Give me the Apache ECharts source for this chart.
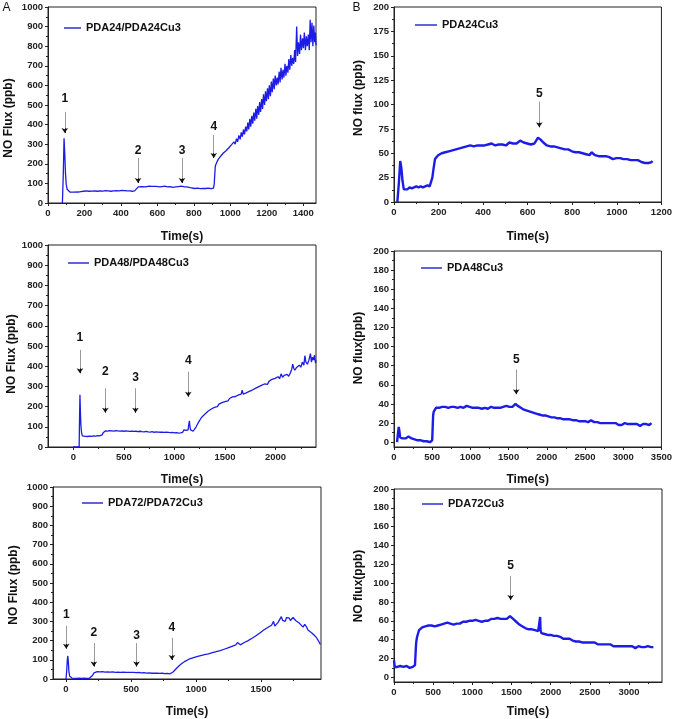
<!DOCTYPE html>
<html><head><meta charset="utf-8">
<script src="https://cdn.jsdelivr.net/npm/echarts@6/dist/echarts.min.js"></script>
<style>html,body{margin:0;padding:0;background:#fff}#c{width:675px;height:719px}</style>
</head><body><div id="c"></div>
<script>
// ---------- tick labels ----------
const xTicksA1 = [0,200,400,600,800,1000,1200,1400];
const xMinorA1 = [100,300,500,700,900,1100,1300];
const xTicksB1 = [0,200,400,600,800,1000,1200];
const xMinorB1 = [100,300,500,700,900,1100];
const xTicksA2 = [0,500,1000,1500,2000];
const xMinorA2 = [250,750,1250,1750,2250];
const xTicksB2 = [0,500,1000,1500,2000,2500,3000,3500];
const xMinorB2 = [250,750,1250,1750,2250,2750,3250];
const xTicksA3 = [0,500,1000,1500];
const xMinorA3 = [250,750,1250,1750];
const xTicksB3 = [0,500,1000,1500,2000,2500,3000];
const xMinorB3 = [250,750,1250,1750,2250,2750,3250];
const yTicksA = [0,100,200,300,400,500,600,700,800,900,1000];
const yMinorA = [50,150,250,350,450,550,650,750,850,950];
const yTicksB1 = [0,25,50,75,100,125,150,175,200];
const yMinorB1 = [12.5,37.5,62.5,87.5,112.5,137.5,162.5,187.5];
const yTicksB = [0,20,40,60,80,100,120,140,160,180,200];
const yMinorB = [10,30,50,70,90,110,130,150,170,190];

// ---------- series names / titles ----------
const seriesNames = ['PDA24/PDA24Cu3','PDA24Cu3','PDA48/PDA48Cu3','PDA48Cu3','PDA72/PDA72Cu3','PDA72Cu3'];
const yTitles = ['NO Flux (ppb)','NO flux (ppb)','NO Flux (ppb)','NO flux(ppb)','NO Flux (ppb)','NO flux(ppb)'];
const xTitle = 'Time(s)';
const panelLetters = ['A','B'];

// ---------- data: [time (s), NO flux (ppb)] ----------
const seriesA1 = [[79,0],[84,150],[88,330],[92,250],[96,150],[100,95],[105,70],[112,60],[120,56],[130,54],[140,55],[150,57],[165,56],[180,58],[195,60],[210,62],[225,60],[240,61],[255,62],[270,60],[285,62],[300,61],[315,63],[330,62],[345,60],[360,62],[375,63],[390,62],[405,64],[420,63],[435,62],[450,62],[462,60],[475,62],[485,70],[495,82],[505,85],[515,84],[525,86],[535,82],[545,84],[555,86],[562,95],[570,85],[580,83],[595,85],[610,82],[625,84],[640,86],[655,82],[670,84],[685,80],[700,82],[715,84],[730,86],[745,83],[760,82],[770,86],[780,78],[790,76],[805,74],[820,76],[835,73],[850,75],[865,74],[880,76],[895,73],[908,76],[912,100],[915,150],[918,190],[925,205],[932,220],[940,230],[948,240],[955,235],[962,255],[970,248],[978,268],[985,262],[992,282],[1000,275],[1007,298],[1014,288],[1020,312],[1027,300],[1034,328],[1040,312],[1047,345],[1054,325],[1060,360],[1066,338],[1072,375],[1078,350],[1084,390],[1090,365],[1096,410],[1101,375],[1107,430],[1112,390],[1118,445],[1123,405],[1129,462],[1134,420],[1140,480],[1145,430],[1150,495],[1156,450],[1161,515],[1166,465],[1172,530],[1177,480],[1182,555],[1188,500],[1193,570],[1198,520],[1204,585],[1209,530],[1214,600],[1220,545],[1225,620],[1230,565],[1236,635],[1241,580],[1246,650],[1252,600],[1257,640],[1262,605],[1268,670],[1273,615],[1278,690],[1284,630],[1289,680],[1294,640],[1300,710],[1305,650],[1310,700],[1316,665],[1321,735],[1326,680],[1332,755],[1337,700],[1342,740],[1348,710],[1353,780],[1358,720],[1364,900],[1369,750],[1374,820],[1380,760],[1385,860],[1390,780],[1396,840],[1401,790],[1406,870],[1412,780],[1417,850],[1422,800],[1428,860],[1433,780],[1438,935],[1443,820],[1448,920],[1453,800],[1458,905],[1463,820],[1467,870],[1470,805]];

const seriesB1 = [[15,0],[22,20],[28,42],[33,35],[38,22],[44,13],[50,14],[60,13],[70,15],[80,14],[90,15],[100,16],[110,15],[120,16],[130,15],[140,16],[150,17],[160,16],[166,18],[172,25],[178,35],[184,44],[190,46],[198,48],[206,47],[214,50],[222,49],[230,51],[238,50],[246,52],[254,51],[262,53],[270,52],[278,54],[286,53],[294,55],[302,54],[310,56],[318,55],[326,57],[334,56],[342,58],[350,60],[358,57],[366,59],[374,58],[382,60],[390,58],[398,59],[406,58],[414,60],[422,59],[430,58],[438,60],[446,59],[454,58],[462,60],[470,59],[478,61],[486,59],[494,60],[502,58],[510,60],[518,61],[526,59],[534,60],[542,58],[550,60],[558,59],[566,63],[574,62],[582,61],[590,62],[598,60],[606,61],[614,59],[622,61],[630,60],[638,63],[646,66],[652,68],[658,64],[664,63],[670,61],[678,60],[686,58],[694,59],[702,57],[710,56],[718,57],[726,55],[734,56],[742,54],[750,55],[758,53],[766,54],[774,56],[782,54],[790,53],[798,52],[806,53],[814,51],[822,52],[830,51],[838,52],[846,50],[854,51],[862,49],[870,50],[878,48],[886,51],[894,49],[902,48],[910,49],[918,47],[926,48],[934,47],[942,46],[950,47],[958,45],[966,46],[974,45],[982,44],[990,46],[998,45],[1006,44],[1014,45],[1022,43],[1030,44],[1038,43],[1046,44],[1054,42],[1062,43],[1070,42],[1078,43],[1086,41],[1094,43],[1102,42],[1110,41],[1118,42],[1126,40],[1134,41],[1142,40],[1150,39],[1156,41],[1160,42]];

const seriesA2 = [[0,0],[30,0],[58,0],[62,150],[66,258],[70,180],[75,110],[82,70],[90,55],[100,52],[120,53],[140,52],[160,54],[180,53],[200,55],[220,54],[240,56],[260,55],[275,57],[285,60],[295,70],[305,78],[320,80],[340,79],[360,81],[380,80],[400,79],[420,81],[440,80],[460,79],[480,80],[500,78],[520,80],[540,79],[560,77],[580,79],[600,77],[620,78],[640,76],[660,78],[680,76],[700,75],[720,77],[740,75],[760,74],[780,76],[800,73],[820,75],[840,74],[860,73],[880,74],[900,72],[920,73],[940,72],[960,71],[980,72],[1000,70],[1020,71],[1040,69],[1060,70],[1080,72],[1095,85],[1105,90],[1115,82],[1125,80],[1135,85],[1142,110],[1148,130],[1154,100],[1160,85],[1170,80],[1185,78],[1200,85],[1215,100],[1230,115],[1245,128],[1260,140],[1275,150],[1290,158],[1305,165],[1320,170],[1335,178],[1350,183],[1365,188],[1380,192],[1395,196],[1410,205],[1425,200],[1440,212],[1455,208],[1470,220],[1485,215],[1500,225],[1515,232],[1530,228],[1545,240],[1560,235],[1575,248],[1590,240],[1605,250],[1620,245],[1635,258],[1650,250],[1660,262],[1670,282],[1680,262],[1695,258],[1710,268],[1725,262],[1740,275],[1755,270],[1770,282],[1785,278],[1800,290],[1815,285],[1830,298],[1845,292],[1860,305],[1875,300],[1890,312],[1905,318],[1920,310],[1935,325],[1950,320],[1965,335],[1980,328],[1995,340],[2010,332],[2025,348],[2040,338],[2055,362],[2070,345],[2085,355],[2100,348],[2115,360],[2130,350],[2145,365],[2160,385],[2170,410],[2180,390],[2190,380],[2205,392],[2220,385],[2235,405],[2250,395],[2265,420],[2280,405],[2290,452],[2300,420],[2315,410],[2330,430],[2345,462],[2355,420],[2365,445],[2375,430],[2385,455],[2395,415],[2400,430]];

const seriesB2 = [[40,0],[50,8],[62,16],[70,12],[80,5],[95,3],[110,4],[130,3],[150,4],[170,5],[190,6],[210,5],[230,4],[250,4],[270,3],[290,3],[310,2],[330,3],[350,2],[370,2],[390,1],[410,2],[430,1],[450,1],[470,0],[490,1],[500,2],[506,15],[512,28],[520,32],[535,34],[550,36],[570,37],[590,36],[610,38],[630,37],[650,39],[670,37],[690,38],[710,36],[730,38],[750,37],[770,39],[790,37],[810,38],[830,36],[850,38],[870,37],[890,38],[910,36],[930,37],[950,38],[970,36],[990,37],[1010,38],[1030,36],[1050,37],[1070,36],[1090,38],[1110,36],[1130,37],[1150,35],[1170,37],[1190,36],[1210,37],[1230,35],[1250,36],[1270,37],[1290,35],[1310,36],[1330,37],[1350,36],[1370,37],[1390,36],[1410,38],[1430,37],[1450,39],[1470,38],[1490,39],[1510,37],[1530,38],[1550,37],[1570,39],[1590,40],[1605,41],[1620,38],[1640,37],[1660,36],[1680,35],[1700,34],[1720,35],[1740,33],[1760,34],[1780,32],[1800,33],[1820,31],[1840,32],[1860,30],[1880,31],[1900,29],[1920,30],[1940,28],[1960,29],[1980,28],[2000,29],[2020,27],[2040,28],[2060,26],[2080,27],[2100,26],[2120,27],[2140,25],[2160,26],[2180,25],[2200,26],[2220,24],[2240,25],[2260,24],[2280,25],[2300,24],[2320,25],[2340,23],[2360,24],[2380,23],[2400,24],[2420,22],[2440,23],[2460,22],[2480,23],[2500,22],[2520,23],[2540,21],[2560,22],[2580,23],[2600,22],[2620,21],[2640,22],[2660,21],[2680,22],[2700,20],[2720,21],[2740,20],[2760,21],[2780,20],[2800,19],[2820,20],[2840,19],[2860,20],[2880,19],[2900,20],[2920,19],[2940,18],[2960,19],[2980,18],[3000,19],[3020,20],[3040,18],[3060,19],[3080,18],[3100,19],[3120,18],[3140,19],[3160,18],[3180,19],[3200,18],[3220,17],[3240,18],[3260,19],[3280,18],[3300,19],[3320,17],[3340,18],[3360,19],[3370,20]];

const seriesA3 = [[0,0],[5,40],[10,100],[14,120],[18,90],[22,40],[28,15],[35,7],[45,5],[60,4],[80,3],[100,4],[120,3],[140,4],[160,3],[180,4],[195,6],[205,20],[215,32],[225,37],[240,38],[260,37],[280,38],[300,36],[320,37],[340,36],[360,37],[380,35],[400,36],[420,35],[440,36],[460,34],[480,35],[500,34],[520,35],[540,33],[560,34],[580,32],[600,33],[620,31],[640,32],[660,30],[680,31],[690,35],[700,30],[720,29],[740,30],[760,28],[780,29],[800,27],[812,28],[825,38],[840,48],[855,60],[870,70],[885,78],[900,85],[915,92],[930,98],[945,103],[960,107],[975,110],[990,113],[1005,116],[1020,120],[1035,122],[1050,125],[1065,127],[1080,130],[1095,131],[1110,135],[1125,137],[1140,140],[1155,142],[1170,146],[1185,148],[1200,152],[1215,155],[1230,158],[1245,162],[1260,165],[1275,170],[1290,173],[1305,178],[1318,190],[1325,180],[1340,178],[1355,185],[1370,190],[1385,195],[1400,200],[1415,205],[1430,212],[1445,218],[1460,225],[1475,232],[1490,240],[1505,248],[1520,255],[1535,262],[1550,268],[1565,272],[1580,280],[1595,300],[1605,275],[1615,285],[1630,295],[1645,305],[1655,325],[1665,305],[1675,315],[1685,300],[1695,320],[1705,310],[1715,318],[1725,305],[1735,315],[1745,320],[1755,325],[1765,305],[1780,298],[1795,290],[1810,280],[1822,270],[1835,285],[1842,295],[1850,270],[1860,255],[1875,248],[1890,240],[1905,230],[1920,220],[1935,205],[1948,190],[1955,180],[1960,185]];

const seriesB3 = [[0,18],[5,14],[12,11],[25,10],[40,11],[60,10],[80,12],[100,10],[120,11],[140,10],[160,12],[180,11],[200,10],[220,12],[240,11],[260,12],[268,13],[275,25],[282,36],[292,42],[305,46],[320,50],[340,52],[360,53],[380,55],[400,54],[420,56],[440,55],[460,57],[480,55],[500,56],[520,54],[540,56],[560,55],[580,57],[600,56],[620,55],[640,57],[660,56],[680,58],[700,56],[720,57],[740,58],[760,56],[780,58],[800,57],[820,59],[840,57],[860,58],[880,59],[900,57],[920,59],[940,58],[960,60],[980,58],[1000,60],[1020,59],[1040,61],[1060,59],[1080,60],[1100,61],[1120,59],[1140,61],[1160,60],[1180,62],[1200,60],[1220,61],[1240,62],[1260,60],[1280,62],[1300,61],[1320,63],[1340,61],[1360,62],[1380,63],[1400,62],[1420,64],[1440,62],[1460,63],[1480,65],[1490,66],[1500,64],[1520,62],[1540,60],[1560,59],[1580,57],[1600,56],[1620,55],[1640,54],[1660,53],[1680,52],[1700,53],[1720,51],[1740,50],[1760,51],[1780,49],[1800,50],[1820,48],[1840,49],[1860,48],[1865,64],[1870,50],[1880,47],[1900,48],[1920,46],[1940,47],[1960,45],[1980,46],[2000,45],[2020,46],[2040,44],[2060,43],[2080,44],[2100,42],[2120,43],[2140,42],[2160,41],[2180,42],[2200,41],[2220,40],[2240,41],[2260,40],[2280,39],[2300,40],[2320,38],[2340,39],[2360,38],[2380,39],[2400,37],[2420,38],[2440,37],[2460,38],[2480,37],[2500,36],[2520,37],[2540,36],[2560,37],[2580,36],[2600,35],[2620,36],[2640,35],[2660,36],[2680,35],[2700,34],[2720,35],[2740,34],[2760,35],[2780,34],[2800,33],[2820,34],[2840,33],[2860,34],[2880,33],[2900,34],[2920,33],[2940,32],[2960,33],[2980,32],[3000,33],[3020,32],[3040,33],[3060,32],[3080,31],[3100,32],[3120,33],[3140,31],[3160,32],[3180,33],[3200,32],[3220,31],[3240,33],[3260,34],[3280,32],[3300,33],[3310,32]];

// ---------- annotations: [label, time, label value, arrow top value, arrow tip value] ----------
const annA1 = [['1',92,530,465,357],['2',494,267,230,102],['3',735,267,230,102],['4',909,389,347,230]];
const annB1 = [['5',652,111.5,103,76.6]];
const annA2 = [['1',66,542,481,365],['2',317,373,291,170],['3',615,344,291,170],['4',1137,426,373,249]];
const annB2 = [['5',1600,86.7,76,50.3]];
const annA3 = [['1',2,337,277,158],['2',214,240,187,65],['3',542,226,187,65],['4',814,269,214,99]];
const annB3 = [['5',1489,118.6,107.5,82]];

// ---------- layout ----------
const LINE = '#1c1ce6';
const FONT = '"Liberation Sans", Arial, sans-serif';
const panels = [
  {grid:{left:48,top:7,width:268,height:196}, xr:[0,1470], yr:[0,1000], xMaj:xTicksA1, xMin:xMinorA1, yMaj:yTicksA, yMin:yMinorA, data:seriesA1, ann:annA1, yt:[9,118], xGap:28, lg:{left:64,top:21,w:17}, lw:1.3},
  {grid:{left:394,top:7,width:268,height:195}, xr:[0,1200], yr:[0,200], xMaj:xTicksB1, xMin:xMinorB1, yMaj:yTicksB1, yMin:yMinorB1, data:seriesB1, ann:annB1, yt:[359,98], xGap:29, lg:{left:415,top:18,w:22}, lw:2.4},
  {grid:{left:48,top:245,width:268,height:202}, xr:[-250,2400], yr:[0,1000], xMaj:xTicksA2, xMin:xMinorA2, yMaj:yTicksA, yMin:yMinorA, data:seriesA2, ann:annA2, yt:[12,354], xGap:27, lg:{left:68,top:256,w:21}, lw:1.3},
  {grid:{left:394,top:251,width:268,height:196}, xr:[0,3500], yr:[-5,200], xMaj:xTicksB2, xMin:xMinorB2, yMaj:yTicksB, yMin:yMinorB, data:seriesB2, ann:annB2, yt:[359,348], xGap:27, lg:{left:421,top:261,w:21}, lw:2.4},
  {grid:{left:53,top:487,width:268,height:196}, xr:[-100,1960], yr:[0,1000], xMaj:xTicksA3, xMin:xMinorA3, yMaj:yTicksA, yMin:yMinorA, data:seriesA3, ann:annA3, yt:[14,585], xGap:27, lg:{left:82,top:496,w:21}, lw:1.3},
  {grid:{left:394,top:489,width:268,height:196}, xr:[0,3420], yr:[-5,200], xMaj:xTicksB3, xMin:xMinorB3, yMaj:yTicksB, yMin:yMinorB, data:seriesB3, ann:annB3, yt:[359,586], xGap:24, lg:{left:422,top:497,w:21}, lw:2.4}
];

const grid=[], xAxis=[], yAxis=[], series=[], legend=[], graphic=[];
const plain = v => String(v);
const labelStyle = {fontFamily:FONT, fontWeight:'bold', fontSize:9.5, color:'#222', formatter:plain};
panels.forEach((p,i)=>{
  grid.push(Object.assign({show:true, borderColor:'#222', borderWidth:1, backgroundColor:'transparent'}, p.grid));
  xAxis.push({type:'value', gridIndex:i, min:p.xr[0], max:p.xr[1], position:'bottom',
    name:xTitle, nameLocation:'middle', nameGap:p.xGap,
    nameTextStyle:{fontFamily:FONT, fontWeight:'bold', fontSize:12, color:'#111'},
    axisLine:{show:true, onZero:false, lineStyle:{color:'#222', width:1}},
    axisTick:{show:true, length:3, customValues:p.xMaj, lineStyle:{color:'#222'}},
    axisLabel:Object.assign({customValues:p.xMaj, margin:5}, labelStyle),
    splitLine:{show:false}});
  xAxis.push({type:'value', gridIndex:i, min:p.xr[0], max:p.xr[1], position:'bottom',
    axisLine:{show:false, onZero:false}, axisLabel:{show:false},
    axisTick:{show:true, length:2, customValues:p.xMin, lineStyle:{color:'#222'}},
    splitLine:{show:false}});
  yAxis.push({type:'value', gridIndex:i, min:p.yr[0], max:p.yr[1], position:'left',
    axisLine:{show:true, onZero:false, lineStyle:{color:'#222', width:1}},
    axisTick:{show:true, length:3, customValues:p.yMaj, lineStyle:{color:'#222'}},
    axisLabel:Object.assign({customValues:p.yMaj, margin:5}, labelStyle),
    splitLine:{show:false}});
  yAxis.push({type:'value', gridIndex:i, min:p.yr[0], max:p.yr[1], position:'left',
    axisLine:{show:false, onZero:false}, axisLabel:{show:false},
    axisTick:{show:true, length:2, customValues:p.yMin, lineStyle:{color:'#222'}},
    splitLine:{show:false}});
  const d = (p.yr[1]-p.yr[0])*0.012;
  const mlData = [];
  p.ann.forEach(a=>{
    mlData.push([{coord:[a[1],a[3]], symbol:'none', lineStyle:{color:'#9a9a9a', width:1, type:'solid'}},{coord:[a[1],a[4]+d], symbol:'none'}]);
    mlData.push([{coord:[a[1],a[4]+2*d], symbol:'none', lineStyle:{color:'#111', width:1, type:'solid'}},{coord:[a[1],a[4]], symbol:'arrow', symbolSize:5}]);
  });
  series.push({type:'line', name:seriesNames[i], xAxisIndex:2*i, yAxisIndex:2*i, data:p.data,
    symbol:'none', showSymbol:false, silent:true, animation:false,
    lineStyle:{color:LINE, width:p.lw}, itemStyle:{color:LINE},
    markLine:{silent:true, animation:false, symbol:['none','none'], label:{show:false}, emphasis:{disabled:true}, data:mlData},
    markPoint:{silent:true, animation:false, symbol:'circle', symbolSize:1, itemStyle:{color:'rgba(0,0,0,0)'},
      label:{show:true, position:'inside', formatter:'{b}', fontFamily:FONT, fontWeight:'bold', fontSize:12, color:'#111'},
      data:p.ann.map(a=>({name:a[0], coord:[a[1],a[2]]}))}
  });
  legend.push({data:[{name:seriesNames[i], icon:'rect'}], left:p.lg.left, top:p.lg.top, itemWidth:p.lg.w, itemHeight:1.6, itemGap:0,
    selectedMode:false, padding:0,
    itemStyle:{color:'#3a3ad0', borderWidth:0},
    textStyle:{fontFamily:FONT, fontWeight:'bold', fontSize:11, color:'#111', lineHeight:14}});
  graphic.push({type:'text', x:p.yt[0], y:p.yt[1], rotation:Math.PI/2, silent:true,
    style:{text:yTitles[i], font:'bold 12px ' + FONT, fill:'#111', align:'center', verticalAlign:'middle'}});
});
graphic.push({type:'text', x:6.5, y:7.5, silent:true, style:{text:panelLetters[0], font:'12px ' + FONT, fill:'#111', align:'center', verticalAlign:'middle'}});
graphic.push({type:'text', x:356.5, y:7.5, silent:true, style:{text:panelLetters[1], font:'12px ' + FONT, fill:'#111', align:'center', verticalAlign:'middle'}});

const chart = echarts.init(document.getElementById('c'), null, {renderer:'canvas'});
chart.setOption({animation:false, backgroundColor:'#fff', grid, xAxis, yAxis, series, legend, graphic});
</script></body></html>
